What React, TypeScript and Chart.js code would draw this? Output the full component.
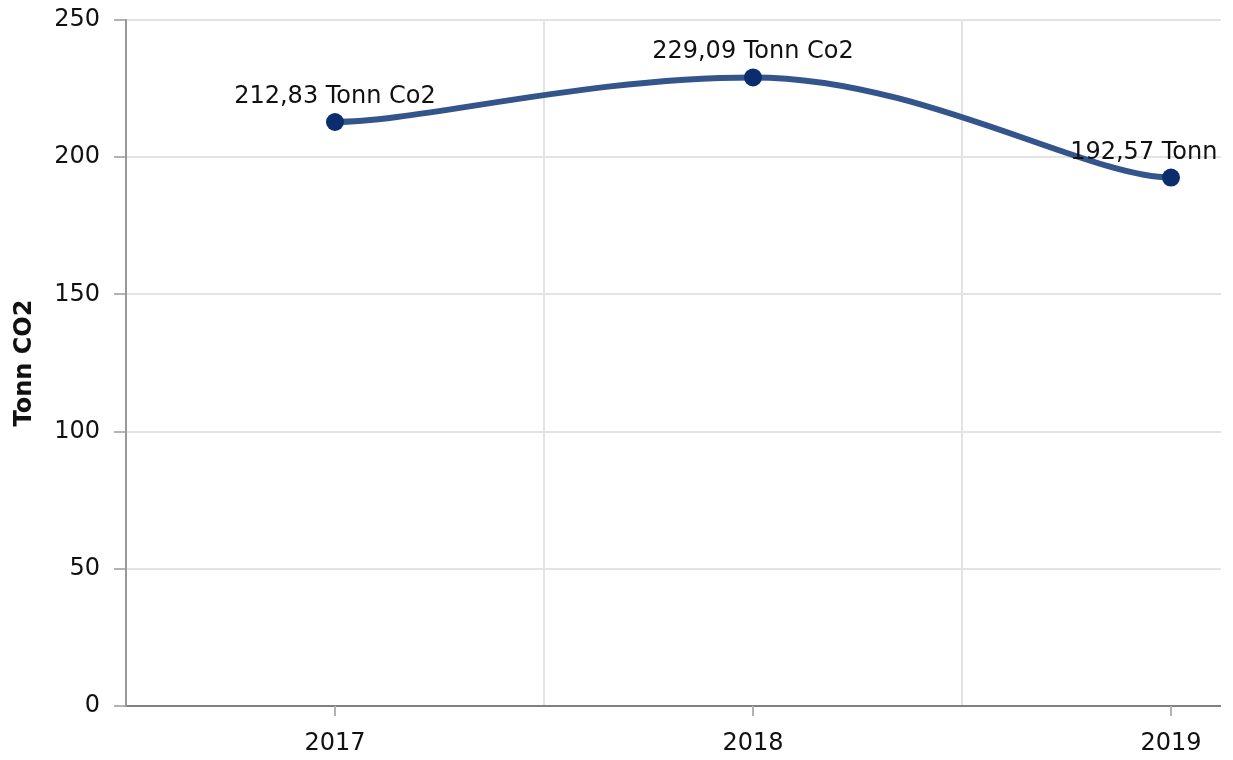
import React, { useEffect, useRef } from "react";
import { Chart, registerables } from "chart.js";

Chart.register(...registerables);

const categories = ["2017", "2018", "2019"];
const values = [212.83, 229.09, 192.57];
const valueLabels = ["212,83 Tonn Co2", "229,09 Tonn Co2", "192,57 Tonn Co2"];
const yTitle = "Tonn CO2";

const FONT = "'DejaVu Sans', Verdana, sans-serif";
const FS = 24;

// Smoothing spline: short flat tangents at the ends, flat at local extremes
const splinePlugin = {
  id: "smoothSpline",
  beforeDatasetDraw(chart: any, args: any) {
    const meta = args.meta;
    const line = meta.dataset;
    if (!line || !line.updateControlPoints) return;
    line.updateControlPoints(chart.chartArea, "x");
    const pts = meta.data;
    const s = 1.5;
    const d = s + 1;
    const endD = 5;
    const n = pts.length;
    pts.forEach((p: any, i: number) => {
      if (i === 0) {
        const b = pts[1];
        p.cp1x = p.x;
        p.cp1y = p.y;
        p.cp2x = p.x + (b.x - p.x) / endD;
        p.cp2y = p.y;
        return;
      }
      if (i === n - 1) {
        const a = pts[n - 2];
        p.cp1x = p.x - (p.x - a.x) / endD;
        p.cp1y = p.y;
        p.cp2x = p.x;
        p.cp2y = p.y;
        return;
      }
      const a = pts[i - 1];
      const b = pts[i + 1];
      let lx = (s * p.x + a.x) / d;
      let ly = (s * p.y + a.y) / d;
      let rx = (s * p.x + b.x) / d;
      let ry = (s * p.y + b.y) / d;
      if (rx !== lx) {
        const corr = ((ry - ly) * (rx - p.x)) / (rx - lx) + p.y - ry;
        ly += corr;
        ry += corr;
      }
      if (ly > Math.max(a.y, p.y)) {
        ly = Math.max(a.y, p.y);
        ry = 2 * p.y - ly;
      } else if (ly < Math.min(a.y, p.y)) {
        ly = Math.min(a.y, p.y);
        ry = 2 * p.y - ly;
      }
      if (ry > Math.max(b.y, p.y)) {
        ry = Math.max(b.y, p.y);
        ly = 2 * p.y - ry;
      } else if (ry < Math.min(b.y, p.y)) {
        ry = Math.min(b.y, p.y);
        ly = 2 * p.y - ry;
      }
      p.cp1x = lx;
      p.cp1y = ly;
      p.cp2x = rx;
      p.cp2y = ry;
    });
  },
};

const labelPlugin = {
  id: "valueLabels",
  afterDatasetsDraw(chart: any) {
    const ctx = chart.ctx;
    const meta = chart.getDatasetMeta(0);
    ctx.save();
    ctx.font = `${FS}px ${FONT}`;
    ctx.fillStyle = "#111111";
    ctx.textAlign = "center";
    ctx.textBaseline = "alphabetic";
    meta.data.forEach((pt: any, i: number) => {
      ctx.fillText(valueLabels[i], pt.x, pt.y - 19);
    });
    ctx.restore();
  },
};

const xTickPlugin = {
  id: "xCenterTicks",
  afterDraw(chart: any) {
    const ctx = chart.ctx;
    const x = chart.scales.x;
    const bottom = chart.chartArea.bottom;
    ctx.save();
    ctx.strokeStyle = "#b3b3b3";
    ctx.lineWidth = 2;
    categories.forEach((_, i) => {
      const px = Math.round(x.getPixelForValue(i));
      ctx.beginPath();
      ctx.moveTo(px, bottom);
      ctx.lineTo(px, bottom + 10);
      ctx.stroke();
    });
    ctx.restore();
  },
};

export default function App() {
  const ref = useRef<HTMLCanvasElement | null>(null);

  useEffect(() => {
    document.body.style.margin = "0";
    if (!ref.current) return;
    const chart = new Chart(ref.current, {
      type: "line",
      data: {
        labels: categories,
        datasets: [
          {
            data: values,
            borderColor: "#34558c",
            borderWidth: 6,
            backgroundColor: "#0a2d6e",
            pointBackgroundColor: "#0a2d6e",
            pointBorderColor: "#0a2d6e",
            pointRadius: 9,
            pointBorderWidth: 0,
            tension: 0.4,
            fill: false,
            clip: false as any,
          },
        ],
      },
      options: {
        animation: false,
        responsive: true,
        maintainAspectRatio: false,
        layout: { padding: { top: 20, right: 20, left: 0, bottom: 0 } },
        plugins: {
          legend: { display: false },
          tooltip: { enabled: false },
        },
        scales: {
          x: {
            type: "category",
            offset: true,
            grid: {
              offset: true,
              color: "#e3e3e3",
              lineWidth: 2,
              drawTicks: true,
              tickLength: 10,
              tickColor: "rgba(0,0,0,0)",
            },
            border: { display: true, color: "#808080", width: 2 },
            ticks: {
              color: "#111111",
              font: { family: FONT, size: FS },
              padding: 13,
              maxRotation: 0,
            },
            afterFit: (s: any) => {
              s.height = 54;
              s.paddingLeft = 0;
              s.paddingRight = 0;
            },
          },
          y: {
            min: 0,
            max: 250,
            ticks: {
              stepSize: 50,
              color: "#111111",
              font: { family: FONT, size: FS },
              padding: 14,
            },
            grid: {
              color: "#e3e3e3",
              lineWidth: 2,
              tickLength: 12,
              tickColor: "#b3b3b3",
            },
            border: { display: true, color: "#999999", width: 2 },
            title: {
              display: true,
              text: yTitle,
              color: "#111",
              font: { family: FONT, size: FS, weight: "bold" },
              padding: { top: 10, bottom: 4 },
            },
            afterFit: (s: any) => {
              s.width = 126;
              s.paddingTop = 0;
              s.paddingBottom = 0;
            },
          },
        },
      },
      plugins: [splinePlugin, labelPlugin, xTickPlugin],
    });
    return () => chart.destroy();
  }, []);

  return (
    <div style={{ width: 1221, height: 760, overflow: "hidden" }}>
      <div style={{ width: 1400, height: 760, position: "relative" }}>
        <canvas ref={ref} />
      </div>
    </div>
  );
}
